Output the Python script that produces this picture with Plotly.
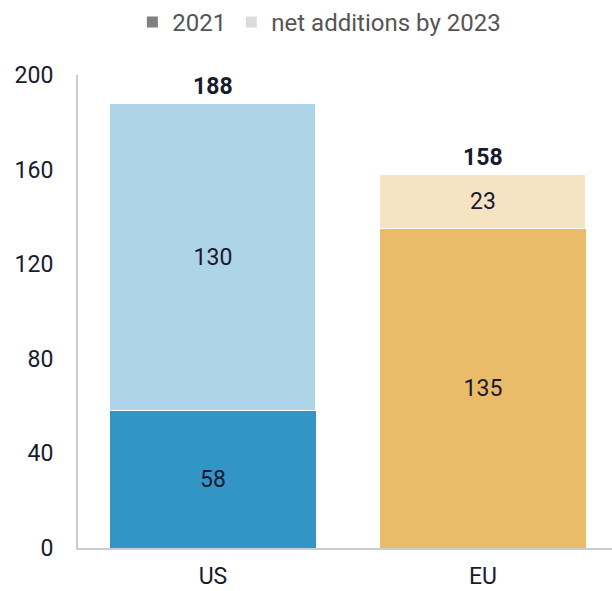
import plotly.graph_objects as go

categories = ["US", "EU"]
base_2021 = [58, 135]
net_additions = [130, 23]
totals = [188, 158]
legend_names = ["2021", "net additions by 2023"]

base_colors = ["#3394C6", "#EABB69"]
add_colors = ["#AED4E9", "#F6E3C2"]

FS = 23
fig = go.Figure()
fig.add_trace(go.Bar(x=categories, y=base_2021, marker=dict(color=base_colors, line=dict(width=0)),
                     text=[str(v) for v in base_2021], textposition="inside", insidetextanchor="middle",
                     textfont=dict(size=FS, color="#1a1a2e"), width=0.763, showlegend=False, hoverinfo="skip"))
fig.add_trace(go.Bar(x=categories, y=net_additions, marker=dict(color=add_colors, line=dict(color="white", width=1)),
                     text=[str(v) for v in net_additions], textposition="inside", insidetextanchor="middle",
                     textfont=dict(size=FS, color="#1a1a2e"), width=0.763, showlegend=False, hoverinfo="skip"))
for name, col in zip(legend_names, ["#808080", "#dcdcdc"]):
    fig.add_trace(go.Scatter(x=[None], y=[None], mode="markers", name=name,
                             marker=dict(symbol="square", size=11, color=col)))

for c, t in zip(categories, totals):
    fig.add_annotation(x=c, y=t, text=f"<b>{t}</b>", showarrow=False, yanchor="bottom", yshift=1,
                       font=dict(size=FS, color="#1a1a2e"))

fig.update_layout(
    barmode="stack", width=612, height=591,
    margin=dict(l=78, r=0, t=75, b=43, autoexpand=False),
    plot_bgcolor="white", paper_bgcolor="white",
    font=dict(family="Roboto", size=FS, color="#1a1a2e"),
    uniformtext=dict(mode=False),
    legend=dict(orientation="h", x=0.452, xanchor="center", y=1.0, yref="container", yanchor="top",
                font=dict(size=24, color="#555555"), itemwidth=30, traceorder="normal"),
    xaxis=dict(range=[-0.5, 1.478], showline=True, linecolor="#cccccc", linewidth=2, ticks="",
               tickfont=dict(size=FS, color="#1a1a2e"), showgrid=False, ticklabelstandoff=6),
    yaxis=dict(range=[0, 200], tickvals=[0, 40, 80, 120, 160, 200], showline=True, linecolor="#cccccc",
               linewidth=2, showgrid=False, zeroline=False, ticks="", ticklabelstandoff=18,
               tickfont=dict(size=FS, color="#1a1a2e")),
)
fig.write_html("out.html", config={"displayModeBar": False},
               post_script="document.body.style.margin='0px';")
